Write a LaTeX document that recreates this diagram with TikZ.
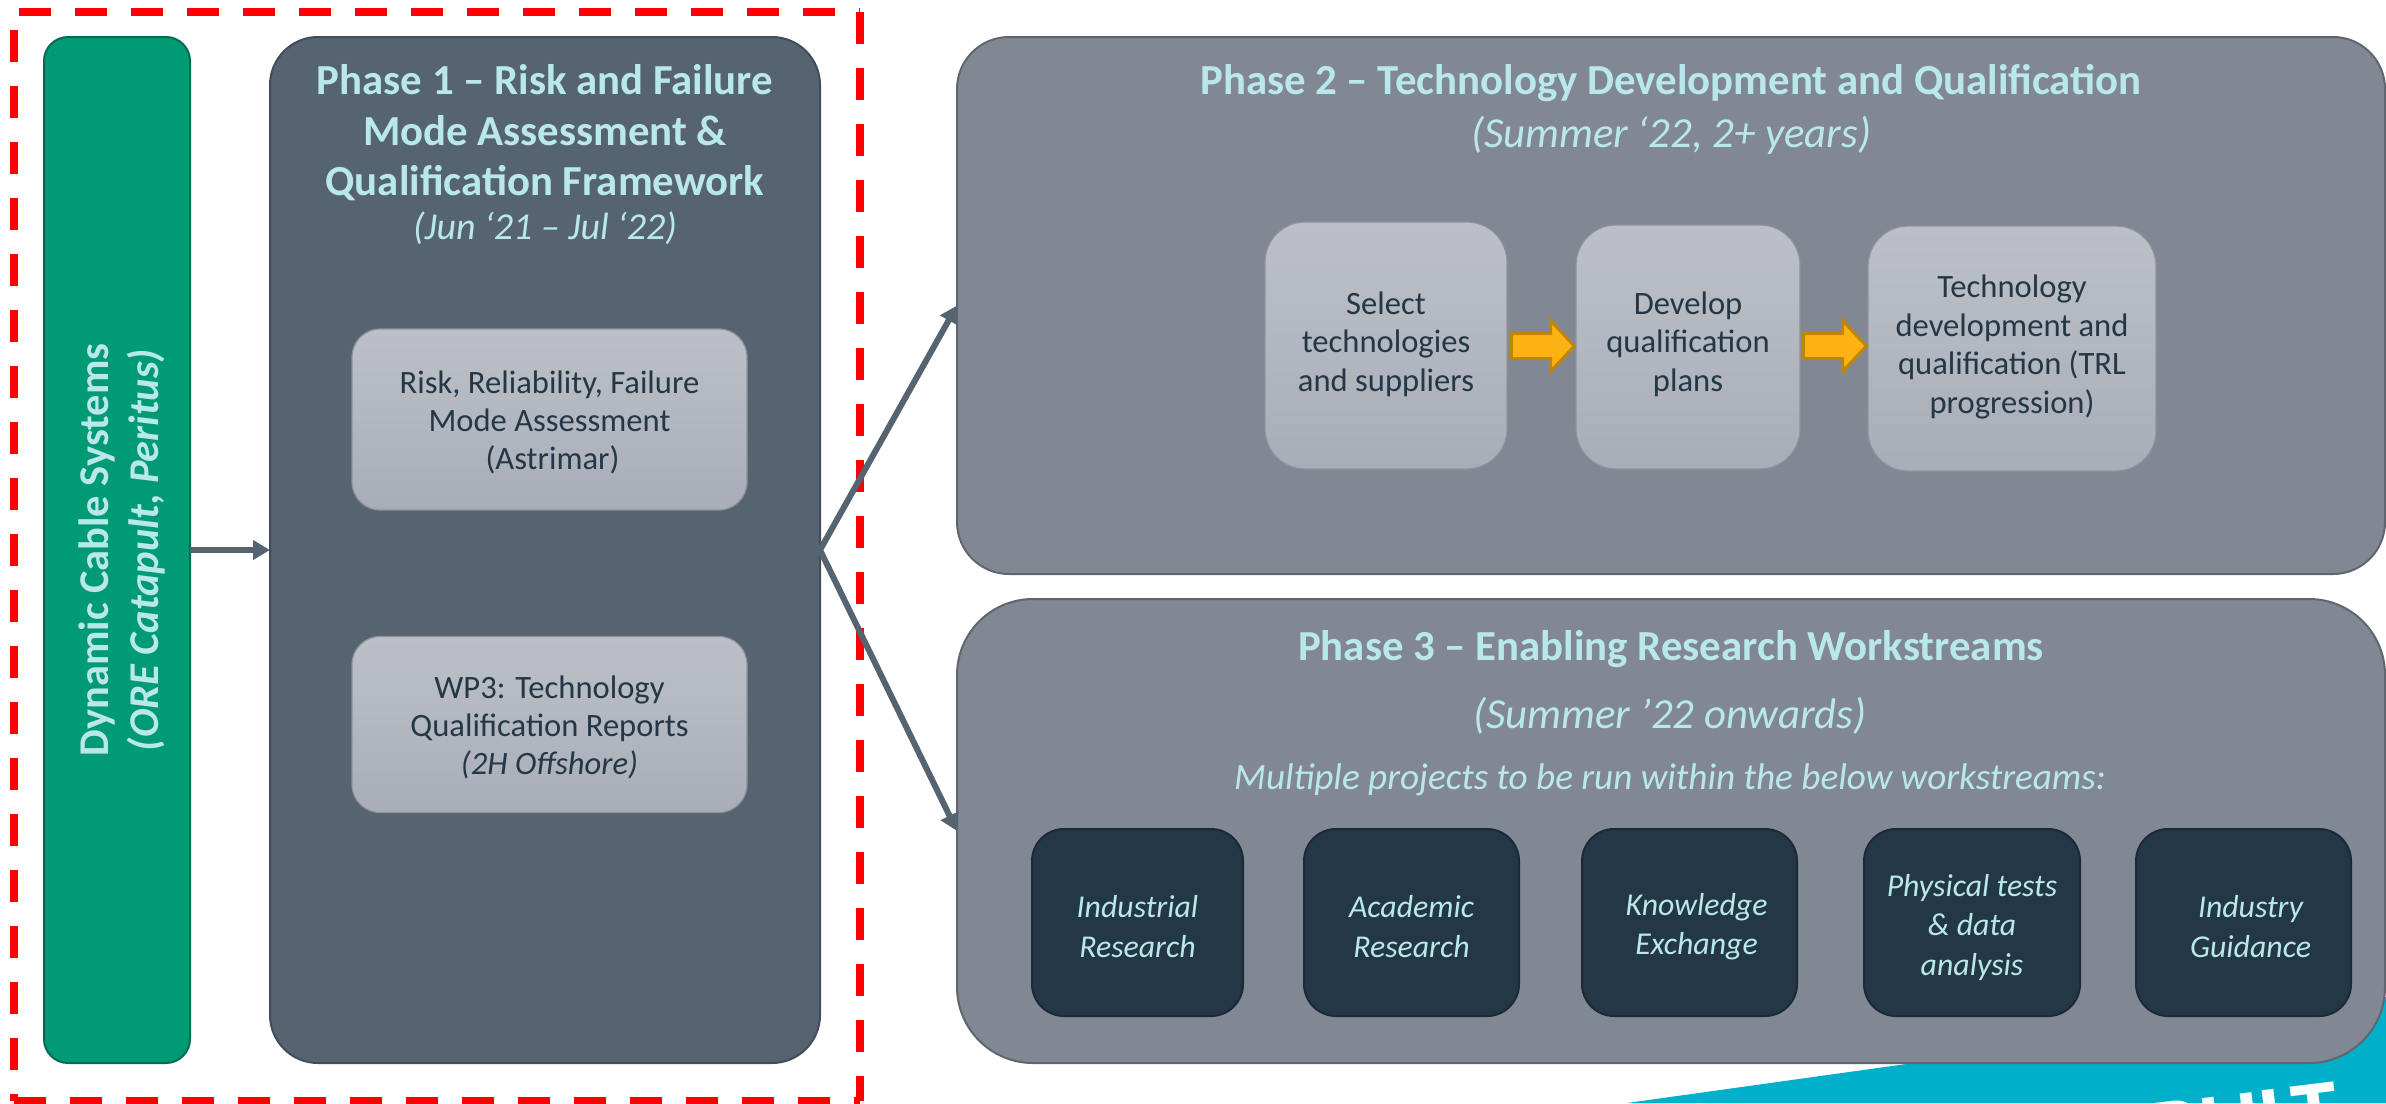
\documentclass[tikz,border=0pt]{standalone}
\usepackage{fontspec}
\setmainfont{Carlito}
\usetikzlibrary{arrows.meta,shapes.arrows}
\definecolor{cyanT}{HTML}{B9E8EC}
\definecolor{navyT}{HTML}{243746}
\definecolor{navyE}{HTML}{1B2A36}
\definecolor{slateF}{HTML}{566370}
\definecolor{slateE}{HTML}{434D59}
\definecolor{greyF}{HTML}{828893}
\definecolor{greyE}{HTML}{5F6670}
\definecolor{greenF}{HTML}{009A74}
\definecolor{greenE}{HTML}{056B55}
\definecolor{lightT}{HTML}{BCC0C6}
\definecolor{lightB}{HTML}{A9ADB7}
\definecolor{lightE}{HTML}{8D929B}
\definecolor{orangeF}{HTML}{FDB213}
\definecolor{orangeE}{HTML}{BE8507}
\definecolor{tealF}{HTML}{00AFCA}
\newcommand{\fsz}[2]{\fontsize{#1pt}{#2pt}\selectfont}
\tikzset{
  base/.style={rectangle,inner sep=0pt,outer sep=0pt,align=center},
  greenbox/.style={base,draw=greenE,fill=greenF,line width=1pt,minimum width=73pt,minimum height=513pt,rounded corners=12pt},
  slatebox/.style={base,draw=slateE,fill=slateF,line width=1pt,minimum width=275pt,minimum height=513pt,rounded corners=24pt},
  greybox/.style={base,draw=greyE,fill=greyF,line width=1pt,minimum width=714pt},
  lightbox/.style={base,draw=lightE,top color=lightT,bottom color=lightB,line width=.6pt},
  lighttext/.style={base,text=navyT,font=\fsz{16.3}{19.2}},
  darkbox/.style={base,draw=navyE,fill=navyT,line width=1pt,minimum height=93.5pt,rounded corners=16pt},
  darktext/.style={base,text=cyanT,font=\fsz{15.9}{19.6}\itshape},
  headtext/.style={base,text=cyanT,font=\fsz{21.4}{25.2}\bfseries},
  datetext/.style={base,text=cyanT,font=\fsz{21.4}{25.5}\itshape},
  link/.style={draw=slateF,line width=3pt,-{Triangle[length=8.5pt,width=9.5pt]}},
  dashline/.style={draw=red,line width=4pt},
  orangearrow/.style={single arrow,draw=orangeE,fill=orangeF,line width=1.5pt,inner xsep=0pt,inner ysep=5.5pt,outer sep=0pt,minimum height=31.5pt,minimum width=23pt,single arrow head extend=6.5pt,single arrow tip angle=94}
}
\begin{document}
\begin{tikzpicture}[x=0.5pt,y=-0.5pt]
\useasboundingbox (0,0) rectangle (2386,1103);
\clip (0,0) rectangle (2386,1103);
% teal corner and cropped logo
\fill[tealF] (1627,1103) -- (2386,997) -- (2386,1103) -- cycle;
\node[base,text=white,font=\fsz{46}{46}\bfseries,rotate=7,anchor=north east] (logo) at (2334,1082) {PULT};
% red dashed frame
\coordinate (tl) at (14,12);
\coordinate (tr) at (860,12);
\coordinate (bl) at (14,1101);
\coordinate (br) at (860,1101);
\draw[dashline,dash pattern=on 16pt off 12pt,dash phase=25.5pt] (tl) -- (tr);
\draw[dashline,dash pattern=on 16pt off 12pt] (tr) -- (br);
\draw[dashline,dash pattern=on 16pt off 12pt] (bl) -- (br);
\draw[dashline,dash pattern=on 16pt off 12pt,dash phase=19pt] (tl) -- (bl);
% left column
\node[greenbox] (g) at (117,550) {};
\node[base,rotate=90,text=cyanT,font=\fsz{21.2}{25.2}\bfseries] (gl) at (122,550) {Dynamic Cable Systems\\\textit{(ORE Catapult, Peritus)}};
\node[slatebox] (p1) at (545,550) {};
\node[headtext] (p1h) at (545,133) {Phase 1 – Risk and Failure\\Mode Assessment \&\\Qualification Framework};
\node[datetext,font=\fsz{19}{23}\itshape] (p1d) at (545,228) {(Jun ‘21 – Jul ‘22)};
\node[lightbox,minimum width=197.5pt,minimum height=90.5pt,rounded corners=14pt] (risk) at (549.5,419.5) {};
\node[lighttext] (riskt) at ([yshift=-1.5pt]risk.center) {Risk, Reliability, Failure\\Mode Assessment\\\hspace*{3pt}(Astrimar)};
\node[lightbox,minimum width=197.5pt,minimum height=88pt,rounded corners=14pt] (wp3) at (549.5,724.5) {};
\node[lighttext] (wp3t) at ([yshift=-1.5pt]wp3.center) {WP3: Technology\\Qualification Reports\\\textit{(2H Offshore)}};
% phase 2
\node[greybox,minimum height=268.5pt,rounded corners=26pt] (p2) at (1671,305.5) {};
\node[headtext] (p2h) at (1671,83) {Phase 2 – Technology Development and Qualification};
\node[datetext] (p2d) at (1671,135) {(Summer ‘22, 2+ years)};
\node[lightbox,minimum width=121pt,minimum height=123.5pt,rounded corners=20pt] (sel) at (1386,345.5) {};
\node[lighttext] (selt) at ([yshift=.75pt]sel.center) {Select\\technologies\\and suppliers};
\node[lightbox,minimum width=112pt,minimum height=122pt,rounded corners=20pt] (dev) at (1688,347) {};
\node[lighttext] (devt) at ([yshift=1.5pt]dev.center) {Develop\\qualification\\plans};
\node[lightbox,minimum width=144pt,minimum height=122.5pt,rounded corners=20pt] (tech) at (2012,348.5) {};
\node[lighttext] (techt) at ([yshift=.75pt]tech.center) {Technology\\development and\\qualification (TRL\\progression)};
\node[orangearrow] (a1) at (1537,346) {};
\node[orangearrow] (a2) at (1829,346) {};
% phase 3
\node[greybox,minimum height=232pt,rounded corners=38pt] (p3) at (1671,831) {};
\node[headtext] (p3h) at (1671,649.5) {Phase 3 – Enabling Research Workstreams};
\node[datetext] (p3d) at (1670,716) {(Summer ’22 onwards)};
\node[datetext,font=\fsz{18.6}{22}\itshape] (p3m) at (1670,780) {Multiple projects to be run within the below workstreams:};
\node[darkbox,minimum width=105.5pt] (w1) at (1137.5,922.5) {};
\node[darktext] (w1t) at ([yshift=-2pt]w1.center) {Industrial\\Research};
\node[darkbox,minimum width=107.5pt] (w2) at (1411.5,922.5) {};
\node[darktext] (w2t) at ([yshift=-2pt]w2.center) {Academic\\Research};
\node[darkbox,minimum width=107.5pt] (w3) at (1689.5,922.5) {};
\node[darktext] (w3t) at ([xshift=3.5pt,yshift=-2pt]w3.center) {Knowledge\\Exchange};
\node[darkbox,minimum width=108pt] (w4) at (1972,922.5) {};
\node[darktext] (w4t) at ([yshift=-2.5pt]w4.center) {Physical tests\\\&\ data\\analysis};
\node[darkbox,minimum width=107.5pt] (w5) at (2243.5,922.5) {};
\node[darktext] (w5t) at ([xshift=3.5pt,yshift=-2pt]w5.center) {Industry\\Guidance};
% connectors
\draw[link] (g.east) -- (p1.west);
\draw[link] (p1.east) -- (p2.west);
\draw[link] (p1.east) -- (p3.west);
\end{tikzpicture}
\end{document}
